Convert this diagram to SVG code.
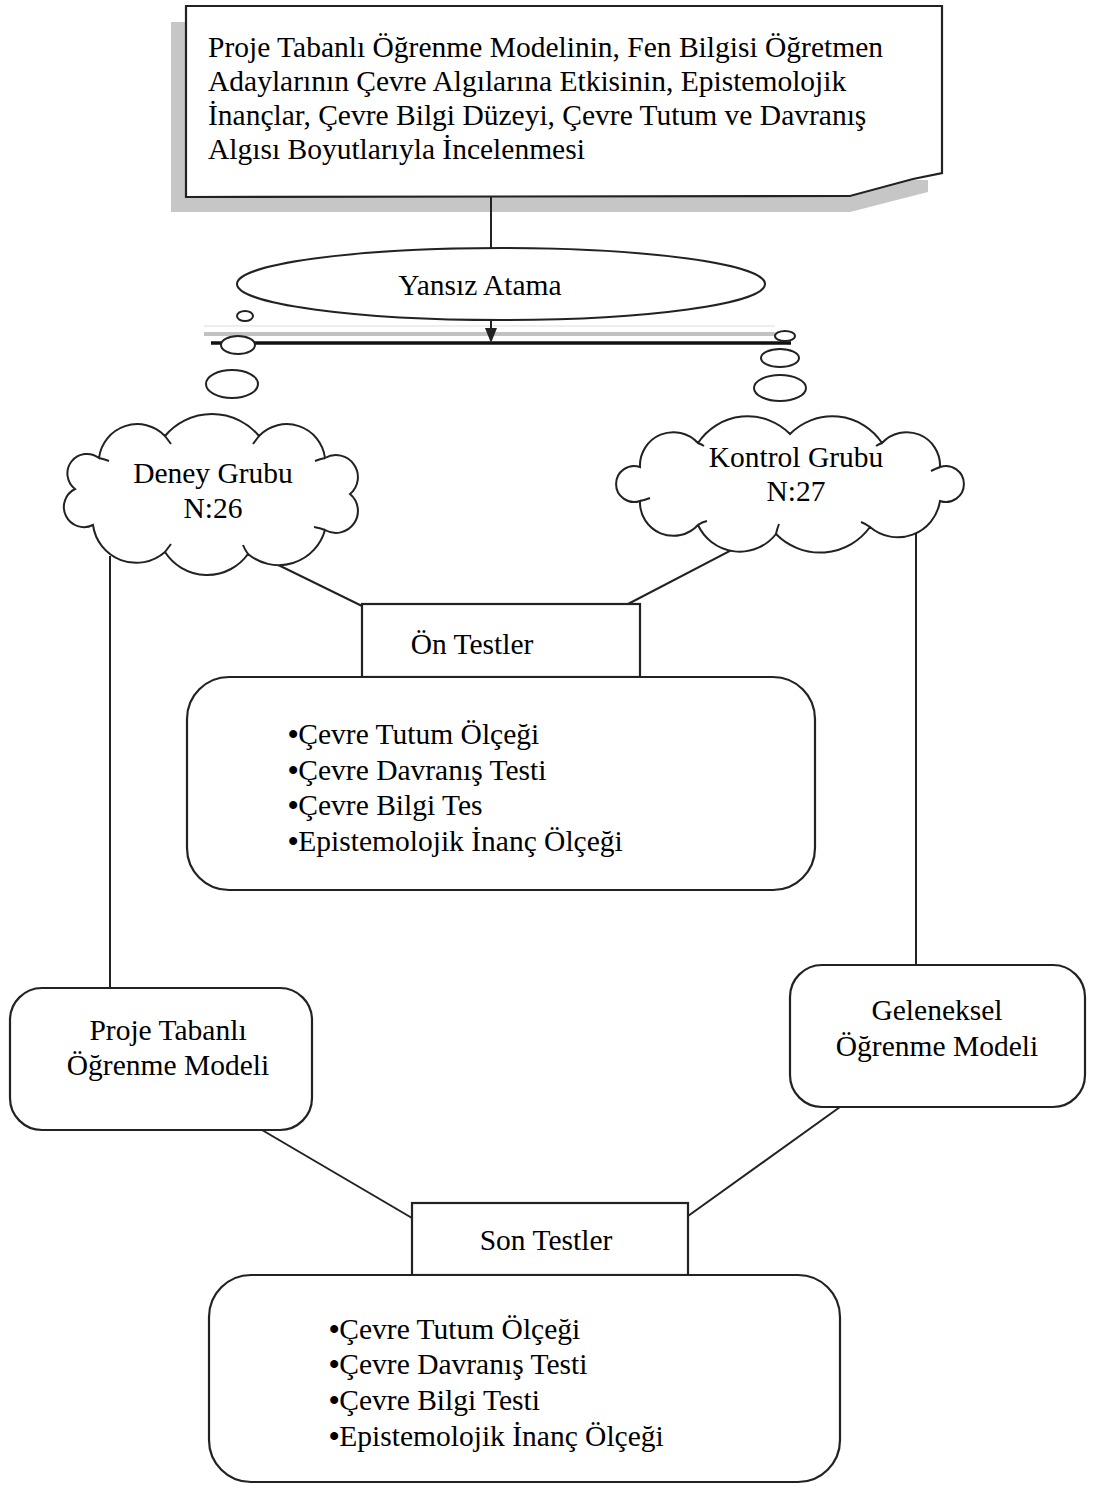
<svg xmlns="http://www.w3.org/2000/svg" width="1094" height="1492" viewBox="0 0 1094 1492">
<style>
text { font-family: "Liberation Serif", "Times New Roman", serif; font-size: 29.5px; fill: #000; }
.c { text-anchor: middle; }
.b { font-weight: bold; }
.ln { stroke: #222; stroke-width: 2; fill: none; }
.box { fill: #fff; stroke: #222; stroke-width: 2.2; }
.bub { fill: #fff; stroke: #222; stroke-width: 2; }
.hook { fill: none; stroke: #222; stroke-width: 2; }
</style>
<rect width="1094" height="1492" fill="#fff"/>

<g id="title">
<polygon points="171,22 186,22 186,197 850,197 913,180 928,180 928,192 850,212 171,212" fill="#c6c6c6"/>
<path class="box" d="M186,6 H942 V173 L913,179 L850,196 L186,197 Z"/>
<text x="208" y="57">Proje Tabanlı Öğrenme Modelinin, Fen Bilgisi Öğretmen</text>
<text x="208" y="91">Adaylarının Çevre Algılarına Etkisinin, Epistemolojik</text>
<text x="208" y="125">İnançlar, Çevre Bilgi Düzeyi, Çevre Tutum ve Davranış</text>
<text x="208" y="159">Algısı Boyutlarıyla İncelenmesi</text>
</g>

<g id="split-bar">
<line x1="204" y1="326" x2="775" y2="326" stroke="#eee" stroke-width="2"/>
<line x1="204" y1="334" x2="775" y2="334" stroke="#c2c2c2" stroke-width="4"/>
<line x1="211" y1="343" x2="791" y2="343" stroke="#111" stroke-width="3.5"/>
<ellipse class="bub" cx="245" cy="316" rx="8" ry="5"/>
<ellipse class="bub" cx="238" cy="345" rx="17" ry="9"/>
<ellipse class="bub" cx="232" cy="384" rx="26" ry="14"/>
<ellipse class="bub" cx="785" cy="336" rx="10" ry="5"/>
<ellipse class="bub" cx="780" cy="358" rx="19" ry="9"/>
<ellipse class="bub" cx="780" cy="388" rx="26" ry="13"/>
</g>

<g id="connectors">
<line class="ln" x1="491" y1="197" x2="491" y2="248"/>
<line class="ln" x1="491" y1="320" x2="491" y2="330"/>
<path d="M485,328 L497,328 L491,343 Z" fill="#222"/>
<line class="ln" x1="110" y1="556" x2="110" y2="988"/>
<line class="ln" x1="262" y1="557" x2="362" y2="606"/>
<line class="ln" x1="766" y1="532" x2="628" y2="604"/>
<line class="ln" x1="916" y1="502" x2="916" y2="965"/>
<line class="ln" x1="262" y1="1130" x2="412" y2="1218"/>
<line class="ln" x1="840" y1="1107" x2="688" y2="1216"/>
</g>

<g id="yansiz-atama">
<ellipse class="bub" cx="501" cy="284" rx="264" ry="36"/>
<text class="c" x="480" y="295">Yansız Atama</text>
</g>

<g id="deney-grubu">
<path class="bub" d="M350,494 A22,22 0 0 1 325,530 A48,48 0 0 1 248,554 A50.2,50.2 0 0 1 165,552 A43.6,43.6 0 0 1 93,525 A20.1,20.1 0 0 1 75,489 A19.6,19.6 0 0 1 99,458 A38.5,38.5 0 0 1 165,436 A61.2,61.2 0 0 1 259,436 A38.5,38.5 0 0 1 325,458 A22,22 0 0 1 350,494 Z"/>
<path class="hook" d="M325,530 Q320,528 314,527 M248,554 Q245,550 243,545 M165,552 Q168,548 171,544 M99,458 Q104,459 109,461 M165,436 Q168,440 171,444 M259,436 Q256,440 253,444 M325,458 Q320,459 315,461"/>
<text class="c" x="213" y="483">Deney Grubu</text>
<text class="c" x="213" y="518">N:26</text>
</g>

<g id="kontrol-grubu">
<path class="bub" d="M940,501 A42.7,42.7 0 0 1 870,527 A61.5,61.5 0 0 1 776,534 A46,46 0 0 1 698,525 A33.4,33.4 0 0 1 640,501 A18,18 0 1 1 640,467 A33.4,33.4 0 0 1 698,443 A59.5,59.5 0 0 1 790,434 A59.5,59.5 0 0 1 882,443 A33.4,33.4 0 0 1 940,467 A18,18 0 1 1 940,501 Z"/>
<path class="hook" d="M870,527 Q866,524 861,522 M776,534 Q777,529 779,524 M698,525 Q702,522 707,521 M640,501 Q645,500 650,498 M698,443 Q701,444 704,446 M882,443 Q879,444 876,446 M940,467 Q935,469 931,471"/>
<text class="c" x="796" y="467">Kontrol Grubu</text>
<text class="c" x="796" y="501">N:27</text>
</g>

<g id="on-testler">
<rect class="box" x="362" y="604" width="278" height="73"/>
<text class="c" x="472" y="654">Ön Testler</text>
</g>

<g id="on-test-list">
<rect class="box" x="187" y="677" width="628" height="213" rx="42"/>
<text x="288" y="744"><tspan class="b">•</tspan>Çevre Tutum Ölçeği</text>
<text x="288" y="780"><tspan class="b">•</tspan>Çevre Davranış Testi</text>
<text x="288" y="815"><tspan class="b">•</tspan>Çevre Bilgi Tes</text>
<text x="288" y="851"><tspan class="b">•</tspan>Epistemolojik İnanç Ölçeği</text>
</g>

<g id="proje-tabanli">
<rect class="box" x="10" y="988" width="302" height="142" rx="32"/>
<text class="c" x="168" y="1040">Proje Tabanlı</text>
<text class="c" x="168" y="1075">Öğrenme Modeli</text>
</g>

<g id="geleneksel">
<rect class="box" x="790" y="965" width="295" height="142" rx="32"/>
<text class="c" x="937" y="1020">Geleneksel</text>
<text class="c" x="937" y="1056">Öğrenme Modeli</text>
</g>

<g id="son-testler">
<rect class="box" x="412" y="1203" width="276" height="72"/>
<text class="c" x="546" y="1250">Son Testler</text>
</g>

<g id="son-test-list">
<rect class="box" x="209" y="1275" width="631" height="207" rx="42"/>
<text x="329" y="1339"><tspan class="b">•</tspan>Çevre Tutum Ölçeği</text>
<text x="329" y="1374"><tspan class="b">•</tspan>Çevre Davranış Testi</text>
<text x="329" y="1410"><tspan class="b">•</tspan>Çevre Bilgi Testi</text>
<text x="329" y="1446"><tspan class="b">•</tspan>Epistemolojik İnanç Ölçeği</text>
</g>
</svg>
